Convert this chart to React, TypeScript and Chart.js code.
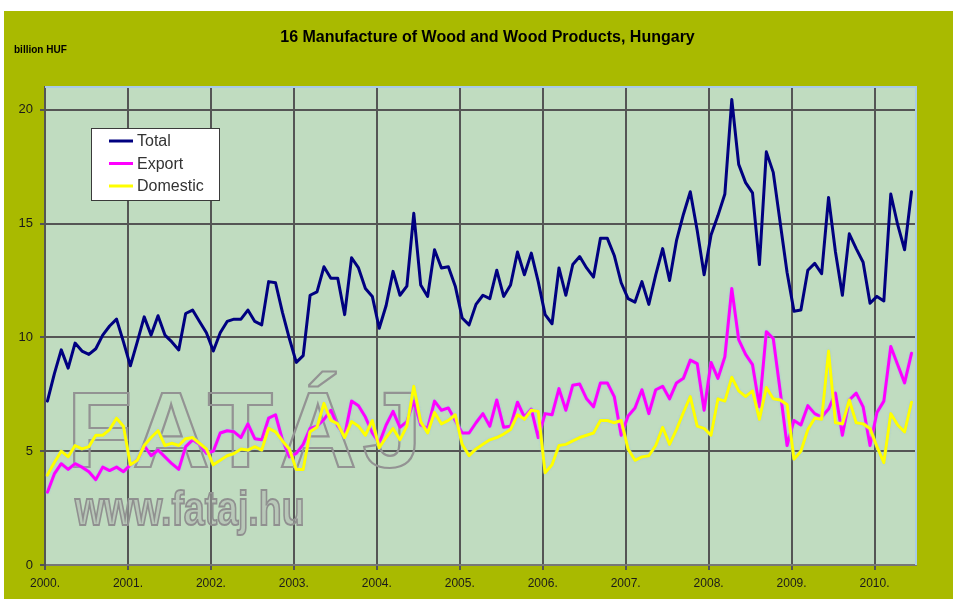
import { useEffect, useRef } from 'react';
import { Chart, registerables } from 'chart.js';

Chart.register(...registerables);

const TITLE = '16 Manufacture of Wood and Wood Products, Hungary';
const UNIT = 'billion HUF';
const WATERMARK = 'FATÁJ';
const WATERMARK_URL = 'www.fataj.hu';
const SERIES_NAMES = ['Total', 'Export', 'Domestic'];
const YEAR_LABELS = ['2000.', '2001.', '2002.', '2003.', '2004.', '2005.', '2006.', '2007.', '2008.', '2009.', '2010.'];
const Y_TICKS = [0, 5, 10, 15, 20];

// monthly values, Jan 2000 - Jun 2010 (billion HUF)
const TOTAL = [
  7.2, 8.4, 9.45, 8.65, 9.75, 9.4, 9.25, 9.5, 10.1, 10.5, 10.8, 9.8,
  8.75, 9.8, 10.9, 10.1, 10.95, 10.1, 9.8, 9.45, 11.05, 11.2, 10.7, 10.2,
  9.4, 10.2, 10.7, 10.8, 10.8, 11.2, 10.7, 10.55, 12.45, 12.4, 11.1, 9.95,
  8.9, 9.2, 11.85, 12.0, 13.1, 12.6, 12.6, 11.0, 13.5, 13.05, 12.15, 11.8,
  10.4, 11.4, 12.9, 11.85, 12.25, 15.45, 12.3, 11.8, 13.85, 13.05, 13.1, 12.25,
  10.85, 10.55, 11.45, 11.85, 11.7, 12.95, 11.8, 12.3, 13.75, 12.75, 13.7, 12.45,
  11.0, 10.6, 13.05, 11.85, 13.2, 13.55, 13.05, 12.65, 14.35, 14.35, 13.6, 12.4,
  11.7, 11.55, 12.45, 11.45, 12.75, 13.9, 12.5, 14.25, 15.4, 16.4, 14.7, 12.75,
  14.5, 15.35, 16.3, 20.45, 17.6, 16.8, 16.35, 13.2, 18.15, 17.25, 15.05, 12.85,
  11.15, 11.2, 12.95, 13.25, 12.8, 16.15, 13.75, 11.85, 14.55, 13.9, 13.3, 11.5,
  11.8, 11.6, 16.3, 14.95, 13.85, 16.4,
];

const EXPORT = [
  3.2, 4.0, 4.45, 4.2, 4.45, 4.3, 4.1, 3.75, 4.3, 4.15, 4.3, 4.1,
  4.4, 4.6, 5.25, 4.8, 5.05, 4.75, 4.45, 4.2, 5.2, 5.5, 5.3, 4.9,
  5.0, 5.8, 5.9, 5.85, 5.6, 6.2, 5.55, 5.5, 6.45, 6.6, 5.5, 4.75,
  4.9, 5.3, 6.0, 6.1, 6.4, 6.8, 6.1, 5.7, 7.2, 7.0, 6.5, 5.8,
  5.35, 6.15, 6.75, 6.05, 6.3, 7.2, 6.15, 6.0, 7.2, 6.8, 6.9, 6.35,
  5.8, 5.8, 6.25, 6.65, 6.1, 7.25, 6.05, 6.1, 7.15, 6.5, 6.85, 5.6,
  6.65, 6.6, 7.75, 6.8, 7.9, 7.95, 7.3, 6.95, 8.0, 8.0, 7.4, 5.7,
  6.55, 6.9, 7.7, 6.65, 7.7, 7.85, 7.3, 8.0, 8.2, 9.0, 8.85, 6.8,
  8.9, 8.2, 9.15, 12.15, 9.9, 9.25, 8.8, 6.95, 10.25, 9.95, 7.65, 5.25,
  6.35, 6.15, 7.0, 6.65, 6.5, 6.85, 7.55, 5.7, 7.25, 7.55, 6.95, 5.25,
  6.7, 7.2, 9.6, 8.8, 8.0, 9.3,
];

const DOMESTIC = [
  3.95, 4.5, 5.0, 4.75, 5.25, 5.1, 5.2, 5.7, 5.7, 5.95, 6.45, 6.1,
  4.4, 4.6, 5.25, 5.6, 5.9, 5.25, 5.35, 5.25, 5.55, 5.6, 5.35, 5.1,
  4.4, 4.6, 4.8, 4.9, 5.1, 5.05, 5.2, 5.05, 6.0, 5.85, 5.45, 5.1,
  4.2, 4.2, 5.85, 6.05, 7.1, 6.35, 6.2, 5.6, 6.3, 6.1, 5.7, 6.35,
  5.15, 5.6, 6.0, 5.5, 6.1, 7.85, 6.3, 5.8, 6.7, 6.2, 6.35, 6.6,
  5.3, 4.8, 5.1, 5.3, 5.5, 5.6, 5.75, 5.95, 6.6, 6.4, 6.8, 6.75,
  4.05, 4.4, 5.25, 5.3, 5.45, 5.6, 5.7, 5.8, 6.35, 6.35, 6.25, 6.35,
  5.1, 4.6, 4.75, 4.8, 5.25, 6.05, 5.3, 5.95, 6.7, 7.4, 6.1, 6.0,
  5.7, 7.3, 7.2, 8.25, 7.65, 7.4, 7.65, 6.4, 7.8, 7.3, 7.25, 7.05,
  4.65, 5.0, 5.95, 6.45, 6.4, 9.4, 6.25, 6.2, 7.25, 6.25, 6.2, 6.0,
  5.2, 4.5, 6.65, 6.15, 5.85, 7.15,
];

const FONT = "'Liberation Sans', Arial, sans-serif";
const OLIVE = '#a9ba00';
const PLOT_BG = '#c0dcc0';
const X_SHIFT = 0.35;

const toPoints = (arr: number[]) => arr.map((v, i) => ({ x: i + X_SHIFT, y: v }));

const decorPlugin = {
  id: 'decor',
  beforeDraw(chart: any) {
    const { ctx, chartArea: a } = chart;
    ctx.save();
    ctx.fillStyle = PLOT_BG;
    ctx.fillRect(a.left, a.top, a.right - a.left, a.bottom - a.top);
    ctx.restore();
  },
  beforeDatasetsDraw(chart: any) {
    const { ctx } = chart;
    ctx.save();
    ctx.font = `bold 107px ${FONT}`;
    (ctx as any).letterSpacing = '6px';
    ctx.textBaseline = 'alphabetic';
    ctx.strokeStyle = '#939393';
    ctx.lineWidth = 2.2;
    ctx.strokeText(WATERMARK, 63, 456);
    ctx.restore();

    ctx.save();
    ctx.translate(71, 514);
    ctx.scale(0.78, 1);
    ctx.font = `bold 48px ${FONT}`;
    ctx.textBaseline = 'alphabetic';
    ctx.fillStyle = 'rgba(175,180,175,0.5)';
    ctx.fillText(WATERMARK_URL, 0, 0);
    ctx.strokeStyle = '#909090';
    ctx.lineWidth = 2;
    ctx.strokeText(WATERMARK_URL, 0, 0);
    ctx.restore();
  },
  beforeDatasetDraw(chart: any, args: any) {
    const ctx = chart.ctx;
    ctx.save();
    if (args.index > 0) {
      ctx.shadowColor = 'rgba(150,195,240,0.9)';
      ctx.shadowBlur = 2;
    }
  },
  afterDatasetDraw(chart: any) {
    chart.ctx.restore();
  },
  afterDraw(chart: any) {
    const { ctx, chartArea: a } = chart;
    ctx.save();
    // frame top / right
    ctx.strokeStyle = '#a9cbe8';
    ctx.lineWidth = 2;
    ctx.beginPath();
    ctx.moveTo(a.left, a.top);
    ctx.lineTo(a.right, a.top);
    ctx.lineTo(a.right, a.bottom);
    ctx.stroke();

    // title
    ctx.fillStyle = '#000';
    ctx.font = `bold 16px ${FONT}`;
    ctx.textAlign = 'center';
    ctx.textBaseline = 'middle';
    ctx.fillText(TITLE, 483.5, 27);

    // unit
    ctx.font = `bold 10px ${FONT}`;
    ctx.textAlign = 'left';
    ctx.fillText(UNIT, 10, 39);

    // legend
    const x0 = 87, y0 = 117, w = 128, h = 72;
    ctx.fillStyle = '#ffffff';
    ctx.fillRect(x0, y0, w, h);
    ctx.strokeStyle = '#3a3a3a';
    ctx.lineWidth = 1;
    ctx.strokeRect(x0 + 0.5, y0 + 0.5, w, h);
    chart.data.datasets.forEach((ds: any, i: number) => {
      const y = y0 + 13 + i * 22.5;
      ctx.strokeStyle = ds.borderColor;
      ctx.lineWidth = 3;
      ctx.beginPath();
      ctx.moveTo(x0 + 18, y);
      ctx.lineTo(x0 + 42, y);
      ctx.stroke();
      ctx.fillStyle = '#333333';
      ctx.font = `16px ${FONT}`;
      ctx.textAlign = 'left';
      ctx.textBaseline = 'middle';
      ctx.fillText(ds.label, x0 + 46, y + 1);
    });
    ctx.restore();
  },
};

export default function App() {
  const ref = useRef<HTMLCanvasElement>(null);

  useEffect(() => {
    const canvas = ref.current;
    if (!canvas) return;
    Chart.defaults.font.family = FONT;
    const chart = new Chart(canvas, {
      type: 'line',
      data: {
        datasets: [
          { label: SERIES_NAMES[0], data: toPoints(TOTAL), borderColor: '#000080', borderWidth: 3, order: 2 },
          { label: SERIES_NAMES[1], data: toPoints(EXPORT), borderColor: '#ff00ff', borderWidth: 3, order: 1 },
          { label: SERIES_NAMES[2], data: toPoints(DOMESTIC), borderColor: '#ffff00', borderWidth: 3, order: 0 },
        ],
      },
      options: {
        responsive: false,
        animation: false,
        devicePixelRatio: 1,
        layout: { padding: { top: 76, right: 37, bottom: 0, left: 0 } },
        elements: {
          point: { radius: 0, hoverRadius: 0 },
          line: { tension: 0, borderJoinStyle: 'round', borderCapStyle: 'round', fill: false },
        },
        plugins: {
          legend: { display: false },
          tooltip: { enabled: false },
          title: { display: false },
        },
        scales: {
          x: {
            type: 'linear',
            min: 0,
            max: 126,
            afterBuildTicks: (s: any) => {
              s.ticks = YEAR_LABELS.map((_, k) => ({ value: k * 12 }));
            },
            afterFit: (s: any) => {
              s.height = 34;
            },
            ticks: {
              callback: (v: any) => YEAR_LABELS[Math.round(Number(v) / 12)] ?? '',
              autoSkip: false,
              maxRotation: 0,
              minRotation: 0,
              font: { size: 12 },
              color: '#1a1a1a',
              padding: 6,
            },
            grid: { color: '#555555', lineWidth: 2, tickLength: 5, drawTicks: true },
            border: { color: '#777777', width: 2 },
          },
          y: {
            min: 0,
            max: 21,
            afterBuildTicks: (s: any) => {
              s.ticks = Y_TICKS.map((v) => ({ value: v }));
            },
            afterFit: (s: any) => {
              s.width = 41;
            },
            ticks: { font: { size: 13 }, color: '#1a1a1a', padding: 7 },
            grid: { color: '#555555', lineWidth: 2, tickLength: 5 },
            border: { color: '#555555', width: 2 },
          },
        },
      },
      plugins: [decorPlugin],
    } as any);
    return () => chart.destroy();
  }, []);

  return (
    <div style={{ position: 'absolute', left: 0, top: 0, width: 953, height: 599, background: '#ffffff', overflow: 'hidden' }}>
      <div style={{ position: 'absolute', left: 4, top: 11, width: 949, height: 588, background: OLIVE }}>
        <canvas ref={ref} width={949} height={588} style={{ display: 'block', width: 949, height: 588 }} />
      </div>
    </div>
  );
}
